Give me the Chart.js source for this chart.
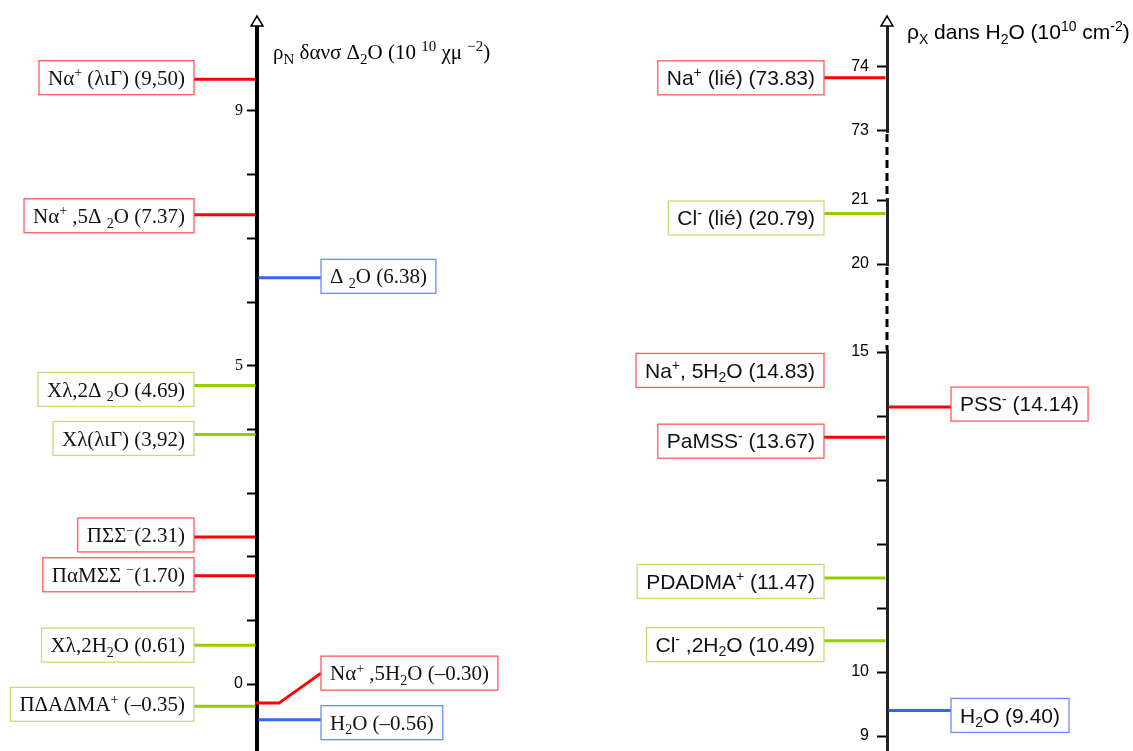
<!DOCTYPE html>
<html>
<head>
<meta charset="utf-8">
<script src="https://cdn.jsdelivr.net/npm/chart.js@4"></script>
<style>
    body { margin: 0; background: #fff; }
    #wrap { position: relative; width: 1133px; height: 751px; }
    canvas { position: absolute; top: 0; }
</style>
</head>
<body>
<div id="wrap">
    <canvas id="neutronChart" width="620" height="751" style="left:0"></canvas>
    <canvas id="xrayChart" width="513" height="751" style="left:620px"></canvas>
</div>
<script>
// ============================================================================
// DENSITES DE LONGUEUR DE DIFFUSION (neutrons dans D2O / rayons X dans H2O)
// ============================================================================

// --- neutrons (axe gauche), texte tel qu'il est rendu (police Symbol) ---
const neutronLabels = [
    'Nα^{+} (λιΓ) (9,50)', 'Nα^{+} ,5Δ _{2}O (7.37)', 'Δ _{2}O (6.38)',
    'Χλ,2Δ _{2}O (4.69)', 'Χλ(λιΓ) (3,92)', 'ΠΣΣ^{−}(2.31)', 'ΠαΜΣΣ ^{−}(1.70)',
    'Χλ,2H_{2}O (0.61)', 'ΠΔΑΔΜΑ^{+} (–0.35)', 'Nα^{+} ,5H_{2}O (–0.30)', 'H_{2}O (–0.56)'
];
const neutronValues = [9.50, 7.37, 6.38, 4.69, 3.92, 2.31, 1.70, 0.61, -0.35, -0.30, -0.56];
const neutronGroups = ['PSS', 'PSS', 'eau', 'PDADMA', 'PDADMA', 'PSS', 'PSS', 'PDADMA', 'PDADMA', 'PSS', 'eau'];
const neutronTicks = [0, 1, 2, 3, 4, 5, 6, 7, 8, 9];
const neutronTickLabels = [0, 5, 9];

// --- rayons X (axe droit, coupé) ---
const xrayLabels = [
    'Na^{+} (lié) (73.83)', 'Cl^{-} (lié) (20.79)', 'Na^{+}, 5H_{2}O (14.83)',
    'PaMSS^{-} (13.67)', 'PDADMA^{+} (11.47)', 'Cl^{-} ,2H_{2}O (10.49)',
    'PSS^{-} (14.14)', 'H_{2}O (9.40)'
];
const xrayValues = [73.83, 20.79, 14.83, 13.67, 11.47, 10.49, 14.14, 9.40];
const xrayGroups = ['PSS', 'PDADMA', 'PSS', 'PSS', 'PDADMA', 'PDADMA', 'PSS', 'eau'];
const xrayTicks = [9, 10, 11, 12, 13, 14, 15, 20, 21, 73, 74];
const xrayTickLabels = [9, 10, 15, 20, 21, 73, 74];

// --- placement des etiquettes (cote de l'axe, decalage vertical) ---
const neutronPlace = [
    { side: -1, dy: -1.5 }, { side: -1, dy: 1 }, { side: 1, dy: -1.5 },
    { side: -1, dy: 4 }, { side: -1, dy: 4 }, { side: -1, dy: -2 }, { side: -1, dy: -1 },
    { side: -1, dy: 0 }, { side: -1, dy: -2 }, { side: 1, dy: -30, elbow: true }, { side: 1, dy: 3 }
];
const xrayPlace = [
    { side: -1, dy: 0 }, { side: -1, dy: 4.5 }, { side: -1, dy: 7.5, noLine: true },
    { side: -1, dy: 4 }, { side: -1, dy: 3.5 }, { side: -1, dy: 4 },
    { side: 1, dy: -3 }, { side: 1, dy: 5 }
];

// coupures de l'axe X : [from, to] ramene a "size" unites
const axisBreaks = [{ from: 15, to: 20, size: 1.375 }, { from: 21, to: 73, size: 1.08 }];

const lineColors = { PSS: '#ff0000', PDADMA: '#99cc00', eau: '#3366ff' };
const boxColors = { PSS: '#ff5a5a', PDADMA: '#bde07a', eau: '#6a8cff' };

// ----------------------------------------------------------------------------
function toVirtual(v) {
    let shift = 0;
    for (const b of axisBreaks) {
        if (v <= b.from) break;
        if (v < b.to) return b.from - shift + (v - b.from) * b.size / (b.to - b.from);
        shift += (b.to - b.from) - b.size;
    }
    return v - shift;
}

class BrokenScale extends Chart.LinearScale {
    static id = 'broken';
    static defaults = {};
    getPixelForValue(value) {
        const lo = toVirtual(this.min), hi = toVirtual(this.max);
        return this.getPixelForDecimal((toVirtual(value) - lo) / (hi - lo));
    }
}
Chart.register(BrokenScale);

// texte avec indices _{..} et exposants ^{..}
function parseRich(str) {
    const parts = [];
    const re = /([\^_])\{([^}]*)\}|[^\^_]+/g;
    let m;
    while ((m = re.exec(str)) !== null) {
        if (m[1]) parts.push({ t: m[2], k: m[1] === '^' ? 1 : -1 });
        else parts.push({ t: m[0], k: 0 });
    }
    return parts;
}
function richFont(f, k) { return (k ? Math.round(f.size * (f.small || 0.65)) : f.size) + 'px ' + f.family; }
function richWidth(ctx, str, f) {
    return parseRich(str).reduce((w, p) => { ctx.font = richFont(f, p.k); return w + ctx.measureText(p.t).width; }, 0);
}
function drawRich(ctx, str, x, y, f) {
    parseRich(str).forEach(p => {
        ctx.font = richFont(f, p.k);
        const dy = p.k === 1 ? -f.size * 0.36 : p.k === -1 ? f.size * 0.22 : 0;
        ctx.fillText(p.t, x, y + dy);
        x += ctx.measureText(p.t).width;
    });
}

const levelPlugin = {
    id: 'levels',
    afterDraw(chart, args, opts) {
        const ctx = chart.ctx;
        const scale = chart.scales.y;
        const ax = chart.chartArea.left;
        const top = chart.chartArea.top;
        ctx.save();

        // parties coupees de l'axe en pointilles
        (opts.breaks || []).forEach(b => {
            const y1 = scale.getPixelForValue(b.to), y2 = scale.getPixelForValue(b.from);
            ctx.fillStyle = '#fff';
            ctx.fillRect(ax - 3, y1 + 2, 6, y2 - y1 - 4);
            ctx.strokeStyle = '#000'; ctx.lineWidth = 3; ctx.setLineDash([8, 5]);
            ctx.beginPath(); ctx.moveTo(ax, y1 + 3); ctx.lineTo(ax, y2 - 2); ctx.stroke();
            ctx.setLineDash([]);
        });

        // fleche ouverte en haut de l'axe
        ctx.beginPath();
        ctx.moveTo(ax, top - 10); ctx.lineTo(ax - 6, top); ctx.lineTo(ax + 6, top); ctx.closePath();
        ctx.fillStyle = '#fff'; ctx.fill();
        ctx.strokeStyle = '#000'; ctx.lineWidth = 1.5; ctx.stroke();

        // titre
        ctx.fillStyle = '#000';
        ctx.textBaseline = 'alphabetic';
        drawRich(ctx, opts.title, ax + opts.titleDx, opts.titleY, opts.titleFont);

        const f = opts.font, pad = 9, h = 34, gap = 63;
        opts.values.forEach((v, i) => {
            const y = scale.getPixelForValue(v);
            const p = opts.place[i];
            const g = opts.groups[i];
            const w = richWidth(ctx, opts.labels[i], f) + 2 * pad;
            const cy = y + p.dy;
            const bx = p.side < 0 ? ax - gap - w : ax + gap + 1;

            ctx.strokeStyle = lineColors[g];
            ctx.lineWidth = 3;
            ctx.beginPath();
            if (p.elbow) {
                ctx.moveTo(ax - 2, y); ctx.lineTo(ax + 22, y); ctx.lineTo(bx, cy);
            } else if (!p.noLine) {
                if (p.side < 0) { ctx.moveTo(bx + w, y); ctx.lineTo(ax - 1.5, y); }
                else { ctx.moveTo(ax + 1.5, y); ctx.lineTo(bx, y); }
            }
            ctx.stroke();

            ctx.fillStyle = '#fff';
            ctx.fillRect(bx, cy - h / 2, w, h);
            ctx.strokeStyle = boxColors[g];
            ctx.lineWidth = 1.3;
            ctx.strokeRect(bx, cy - h / 2, w, h);
            ctx.fillStyle = '#111';
            drawRich(ctx, opts.labels[i], bx + pad, cy + f.size * 0.34, f);
        });
        ctx.restore();
    }
};

function axisOptions(type, min, max, ticks, tickLabels, fontFn, borderColor, borderWidth, labelPad) {
    return {
        type: type, min: min, max: max,
        afterFit: s => { s.width = 40; s.paddingTop = 0; s.paddingBottom = 0; },
        afterBuildTicks: s => { s.ticks = ticks.map(v => ({ value: v })); },
        border: { display: true, color: borderColor, width: borderWidth },
        grid: { drawOnChartArea: false, drawTicks: true, tickLength: 10, tickColor: '#000', tickWidth: 2 },
        ticks: {
            autoSkip: false, maxRotation: 0, color: '#000', padding: labelPad, font: fontFn,
            callback: v => tickLabels.includes(v) ? String(v) : ''
        }
    };
}

new Chart(document.getElementById('neutronChart'), {
    type: 'scatter',
    data: { datasets: [] },
    plugins: [levelPlugin],
    options: {
        responsive: false, animation: false, events: [],
        layout: { padding: { left: 217, top: 26, right: 0, bottom: 0 } },
        plugins: {
            legend: { display: false }, tooltip: { enabled: false },
            levels: {
                labels: neutronLabels, values: neutronValues, groups: neutronGroups, place: neutronPlace,
                font: { size: 21, family: '"Liberation Serif", "DejaVu Serif", serif' },
                title: 'ρ_{N} δανσ Δ_{2}O (10 ^{10} χμ ^{−2})', titleDx: 16, titleY: 59,
                titleFont: { size: 21, small: 0.72, family: '"Liberation Serif", serif' }
            }
        },
        scales: {
            x: { type: 'linear', display: false, min: 0, max: 1 },
            y: axisOptions('linear', -1.052, 10.335, neutronTicks, neutronTickLabels,
                c => (c.tick && c.tick.value === 0)
                    ? { family: '"Liberation Sans", sans-serif', size: 16 }
                    : { family: '"Liberation Serif", serif', size: 16 },
                '#000', 4, 4)
        }
    }
});

new Chart(document.getElementById('xrayChart'), {
    type: 'scatter',
    data: { datasets: [] },
    plugins: [levelPlugin],
    options: {
        responsive: false, animation: false, events: [],
        layout: { padding: { left: 227, top: 26, right: 0, bottom: 0 } },
        plugins: {
            legend: { display: false }, tooltip: { enabled: false },
            levels: {
                labels: xrayLabels, values: xrayValues, groups: xrayGroups, place: xrayPlace,
                breaks: axisBreaks,
                font: { size: 21, family: '"Liberation Sans", Arial, sans-serif' },
                title: 'ρ_{X} dans H_{2}O (10^{10} cm^{-2})', titleDx: 20, titleY: 39,
                titleFont: { size: 21, small: 0.68, family: '"Liberation Sans", sans-serif' }
            }
        },
        scales: {
            x: { type: 'linear', display: false, min: 0, max: 1 },
            y: axisOptions('broken', 8.766, 74.64, xrayTicks, xrayTickLabels,
                { family: '"Liberation Sans", sans-serif', size: 16 }, '#222', 3, 8)
        }
    }
});
</script>
</body>
</html>
